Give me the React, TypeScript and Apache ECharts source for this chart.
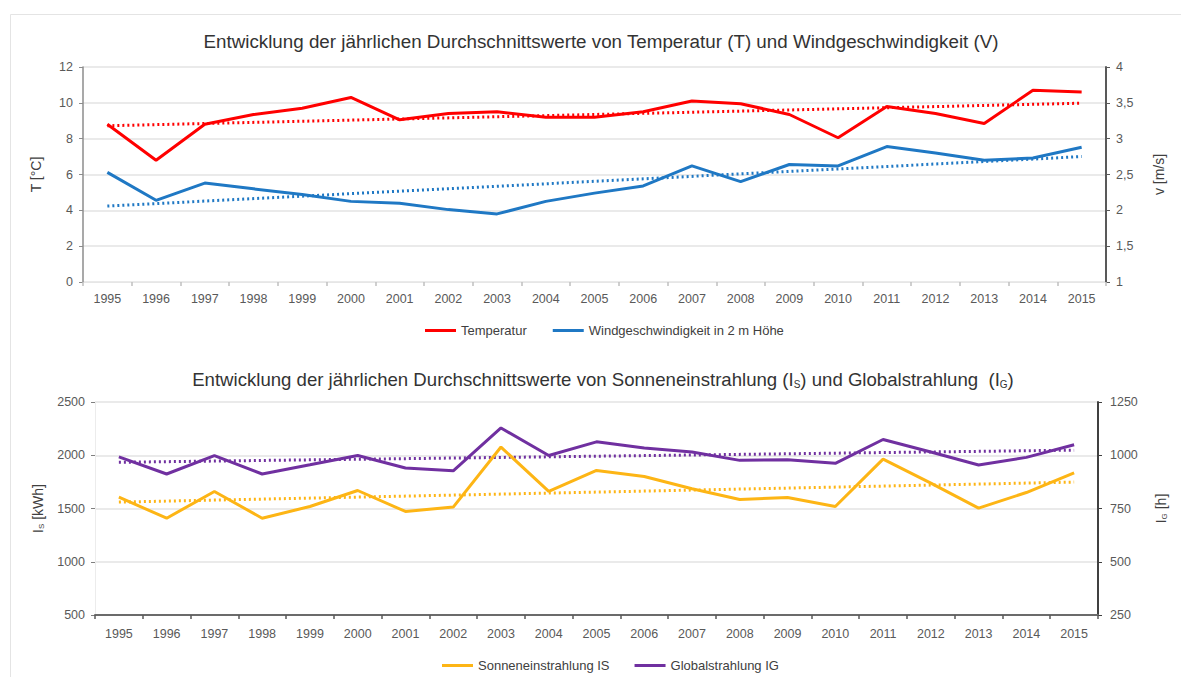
import React, { useEffect, useRef } from "react";
import * as echarts from "echarts";

const years = ["1995","1996","1997","1998","1999","2000","2001","2002","2003","2004","2005","2006","2007","2008","2009","2010","2011","2012","2013","2014","2015"];
const temperatur = [8.8, 6.8, 8.8, 9.35, 9.7, 10.3, 9.05, 9.4, 9.5, 9.2, 9.2, 9.5, 10.1, 9.95, 9.35, 8.05, 9.8, 9.4, 8.85, 10.7, 10.6];
const wind = [2.53, 2.14, 2.38, 2.3, 2.22, 2.125, 2.1, 2.01, 1.95, 2.125, 2.24, 2.34, 2.62, 2.4, 2.64, 2.62, 2.89, 2.8, 2.7, 2.73, 2.88];
const tempTrend = [8.72, 9.98];
const windTrend = [2.06, 2.75];
const sonne = [1607, 1409, 1660, 1409, 1519, 1669, 1472, 1513, 2077, 1660, 1857, 1801, 1685, 1585, 1603, 1519, 1964, 1738, 1503, 1650, 1835];
const global = [992, 912, 998, 912, 955, 999, 940, 927, 1128, 999, 1063, 1034, 1015, 976, 979, 962, 1074, 1015, 954, 990, 1049];
const sonneTrend = [1560, 1748];
const globalTrend = [967, 1024];

const FONT = "'Liberation Sans', Arial, sans-serif";
const LABEL = "#595959";
const RED = "#FF0000";
const BLUE = "#1F78C4";
const ORANGE = "#FDB515";
const PURPLE = "#7030A0";

export default function App() {
  const ref = useRef<HTMLDivElement>(null);
  useEffect(() => {
    document.body.style.margin = "0";
    if (!ref.current) return;
    const chart = echarts.init(ref.current, undefined, { renderer: "svg" });
    const comma = (v: number) => String(v).replace(".", ",");
    const plain = (v: number) => String(v);
    const trendPts = (t: number[]) => [[years[0], t[0]], [years[years.length - 1], t[1]]];
    const xAxisBase = (gridIndex: number, lineColor: string, lineWidth: number, tickColor: string, margin: number) => ({
      type: "category",
      gridIndex,
      data: years,
      boundaryGap: true,
      axisLine: { show: true, lineStyle: { color: lineColor, width: lineWidth } },
      axisTick: { show: true, length: 4, lineStyle: { color: tickColor, width: 1.5 } },
      axisLabel: { color: LABEL, fontSize: 12.5, fontFamily: FONT, margin, interval: 0 },
      splitLine: { show: false },
    });
    const subRich = (size: number) => ({
      m: { fontSize: size, color: "#404040", fontFamily: FONT, verticalAlign: "bottom", lineHeight: size + 4 },
      s: { fontSize: Math.round(size * 0.6), color: "#404040", fontFamily: FONT, verticalAlign: "bottom", lineHeight: size - 2 },
    });
    const option: any = {
      animation: false,
      backgroundColor: "#ffffff",
      textStyle: { fontFamily: FONT },
      graphic: [
        {
          type: "rect",
          shape: { x: 10.5, y: 14.5, width: 1200, height: 700 },
          style: { fill: "none", stroke: "#e4e4e4", lineWidth: 1 },
          silent: true,
          z: -10,
        },
      ],
      title: [
        {
          text: "Entwicklung der jährlichen Durchschnittswerte von Temperatur (T) und Windgeschwindigkeit (V)",
          left: 596,
          top: 27,
          textAlign: "center",
          textStyle: { fontSize: 18.8, fontWeight: "normal", color: "#333333", fontFamily: FONT },
        },
        {
          text: "{m|Entwicklung der jährlichen Durchschnittswerte von Sonneneinstrahlung (I}{s|S}{m|) und Globalstrahlung  (I}{s|G}{m|)}",
          left: 598,
          top: 362,
          textAlign: "center",
          textStyle: {
            fontSize: 18.6,
            fontWeight: "normal",
            color: "#333333",
            fontFamily: FONT,
            rich: {
              m: { fontSize: 18.6, color: "#333333", fontFamily: FONT, verticalAlign: "bottom", lineHeight: 22 },
              s: { fontSize: 10, color: "#333333", fontFamily: FONT, verticalAlign: "bottom", lineHeight: 16 },
            },
          },
        },
      ],
      legend: [
        {
          data: ["Temperatur", "Windgeschwindigkeit in 2 m Höhe"],
          left: 420,
          top: 319,
          icon: "rect",
          itemWidth: 31,
          itemHeight: 3,
          itemGap: 26,
          textStyle: { fontSize: 13, color: "#404040", fontFamily: FONT },
        },
        {
          data: ["Sonneneinstrahlung IS", "Globalstrahlung IG"],
          left: 437,
          top: 654,
          icon: "rect",
          itemWidth: 31,
          itemHeight: 3,
          itemGap: 25,
          textStyle: { fontSize: 13, color: "#404040", fontFamily: FONT },
        },
      ],
      grid: [
        { left: 83, right: 75, top: 67, height: 215 },
        { left: 95, right: 83, top: 402, height: 213 },
      ],
      xAxis: [
        xAxisBase(0, "#e6e6e6", 1, "#bfbfbf", 10),
        xAxisBase(1, "#6b6b6b", 2, "#595959", 12),
      ],
      yAxis: [
        {
          type: "value",
          gridIndex: 0,
          min: 0,
          max: 12,
          interval: 2,
          name: "T [°C]",
          nameLocation: "middle",
          nameGap: 40,
          nameTextStyle: { fontSize: 14, color: "#404040", fontFamily: FONT },
          axisLine: { show: true, lineStyle: { color: "#8c8c8c", width: 1.5 } },
          axisTick: { show: true, length: 4, lineStyle: { color: "#8c8c8c" } },
          axisLabel: { color: LABEL, fontSize: 12.5, fontFamily: FONT, margin: 10 },
          splitLine: { show: true, lineStyle: { color: "#e3e3e3", width: 1.5 } },
        },
        {
          type: "value",
          gridIndex: 0,
          position: "right",
          min: 1,
          max: 4,
          interval: 0.5,
          name: "v [m/s]",
          nameLocation: "middle",
          nameGap: 46,
          nameTextStyle: { fontSize: 14, color: "#404040", fontFamily: FONT },
          axisLine: { show: true, lineStyle: { color: "#595959", width: 2 } },
          axisTick: { show: true, length: 4, lineStyle: { color: "#595959" } },
          axisLabel: { color: LABEL, fontSize: 12.5, fontFamily: FONT, margin: 10, formatter: comma },
          splitLine: { show: false },
        },
        {
          type: "value",
          gridIndex: 1,
          min: 500,
          max: 2500,
          interval: 500,
          name: "{m|I}{s|S}{m| [kWh]}",
          nameLocation: "middle",
          nameGap: 50,
          nameTextStyle: { fontSize: 14, color: "#404040", fontFamily: FONT, rich: subRich(14) },
          axisLine: { show: true, lineStyle: { color: "#ececec", width: 1 } },
          axisTick: { show: true, length: 4, lineStyle: { color: "#7f7f7f" } },
          axisLabel: { color: LABEL, fontSize: 12.5, fontFamily: FONT, margin: 10, formatter: plain },
          splitLine: { show: true, lineStyle: { color: "#e3e3e3", width: 1.5 } },
        },
        {
          type: "value",
          gridIndex: 1,
          position: "right",
          min: 250,
          max: 1250,
          interval: 250,
          name: "{m|I}{s|G}{m| [h]}",
          nameLocation: "middle",
          nameGap: 52,
          nameTextStyle: { fontSize: 14, color: "#404040", fontFamily: FONT, rich: subRich(14) },
          axisLine: { show: true, lineStyle: { color: "#404040", width: 2 } },
          axisTick: { show: true, length: 4, lineStyle: { color: "#404040" } },
          axisLabel: { color: LABEL, fontSize: 12.5, fontFamily: FONT, margin: 12, formatter: plain },
          splitLine: { show: false },
        },
      ],
      series: [
        {
          name: "Temperatur Trend",
          type: "line",
          xAxisIndex: 0,
          yAxisIndex: 0,
          data: trendPts(tempTrend),
          symbol: "none",
          lineStyle: { color: RED, width: 3, type: [2, 3] },
          itemStyle: { color: RED },
          z: 2,
        },
        {
          name: "Wind Trend",
          type: "line",
          xAxisIndex: 0,
          yAxisIndex: 1,
          data: trendPts(windTrend),
          symbol: "none",
          lineStyle: { color: BLUE, width: 3, type: [2, 3] },
          itemStyle: { color: BLUE },
          z: 2,
        },
        {
          name: "Temperatur",
          type: "line",
          xAxisIndex: 0,
          yAxisIndex: 0,
          data: temperatur,
          symbol: "none",
          lineStyle: { color: RED, width: 3 },
          itemStyle: { color: RED },
          z: 3,
        },
        {
          name: "Windgeschwindigkeit in 2 m Höhe",
          type: "line",
          xAxisIndex: 0,
          yAxisIndex: 1,
          data: wind,
          symbol: "none",
          lineStyle: { color: BLUE, width: 3 },
          itemStyle: { color: BLUE },
          z: 3,
        },
        {
          name: "Sonne Trend",
          type: "line",
          xAxisIndex: 1,
          yAxisIndex: 2,
          data: trendPts(sonneTrend),
          symbol: "none",
          lineStyle: { color: ORANGE, width: 3, type: [2, 3] },
          itemStyle: { color: ORANGE },
          z: 2,
        },
        {
          name: "Global Trend",
          type: "line",
          xAxisIndex: 1,
          yAxisIndex: 3,
          data: trendPts(globalTrend),
          symbol: "none",
          lineStyle: { color: PURPLE, width: 3, type: [2, 3] },
          itemStyle: { color: PURPLE },
          z: 2,
        },
        {
          name: "Sonneneinstrahlung IS",
          type: "line",
          xAxisIndex: 1,
          yAxisIndex: 2,
          data: sonne,
          symbol: "none",
          lineStyle: { color: ORANGE, width: 3 },
          itemStyle: { color: ORANGE },
          z: 3,
        },
        {
          name: "Globalstrahlung IG",
          type: "line",
          xAxisIndex: 1,
          yAxisIndex: 3,
          data: global,
          symbol: "none",
          lineStyle: { color: PURPLE, width: 3 },
          itemStyle: { color: PURPLE },
          z: 3,
        },
      ],
    };
    chart.setOption(option);
    return () => chart.dispose();
  }, []);
  return <div ref={ref} style={{ width: 1181, height: 677 }} />;
}
